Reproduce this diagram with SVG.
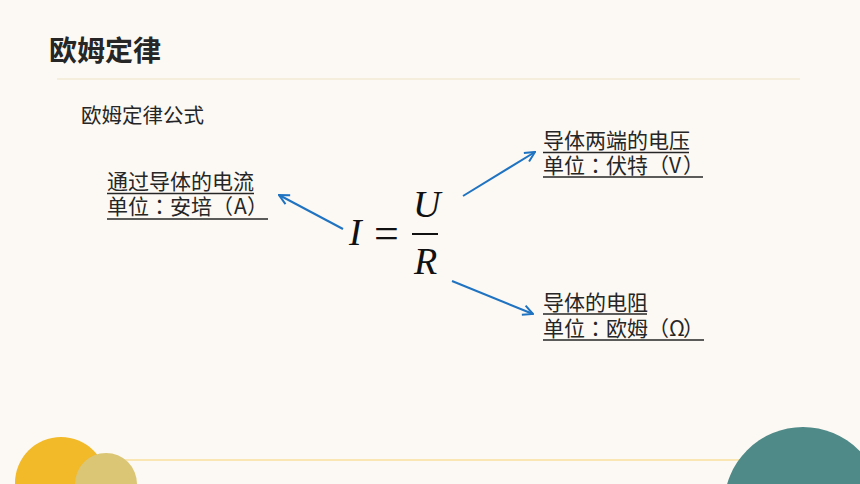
<svg xmlns="http://www.w3.org/2000/svg" width="860" height="484" viewBox="0 0 860 484">
<defs>
<style>
.cn{font-family:"Noto Sans CJK SC","Noto Sans",sans-serif;fill:#262626;}
.lbl{font-size:21px;}
.u2{font-family:"Noto Sans CJK TC","Noto Sans CJK SC",sans-serif;font-feature-settings:"halt" 0,"chws" 0,"palt" 0;text-spacing-trim:space-all;}
.ul{stroke:#262626;stroke-width:1.3;}
.math{font-family:"Liberation Serif","DejaVu Serif",serif;font-style:italic;fill:#111;font-size:38px;}
.conn{stroke:#1f73c1;stroke-width:2;fill:none;}
</style>
<marker id="ah" viewBox="0 0 12 12" refX="11" refY="6" markerWidth="12" markerHeight="12" markerUnits="userSpaceOnUse" orient="auto">
<path d="M1,1 L11,6 L1,11" fill="none" stroke="#1f73c1" stroke-width="2"/>
</marker>
</defs>
<rect width="860" height="484" fill="#fcf9f4"/>
<line x1="57" y1="79" x2="800" y2="79" stroke="#efe4c4" stroke-width="1.2"/>
<line x1="100" y1="460" x2="770" y2="460" stroke="#f8df9c" stroke-width="1.5"/>
<circle cx="61" cy="483" r="46" fill="#f2b928"/>
<circle cx="106" cy="484" r="31" fill="#dbc676"/>
<circle cx="803" cy="506" r="79" fill="#4f8a88"/>

<g id="title"><text class="cn" x="49" y="61" font-size="28" font-weight="bold">欧姆定律</text></g>
<g id="subtitle"><text class="cn" x="81" y="123" font-size="20.5">欧姆定律公式</text></g>

<g id="formula">
<text class="math" x="349" y="245">I</text>
<text x="374" y="248" font-family="Liberation Serif,serif" font-size="44" fill="#111">=</text>
<line x1="412" y1="234" x2="438" y2="234" stroke="#111" stroke-width="2"/>
<text class="math" x="413" y="217">U</text>
<text class="math" x="414" y="274">R</text>
</g>

<g id="current">
<text class="cn lbl" x="107" y="189">通过导体的电流<tspan class="u2" x="107 128 149 170 191 212 234 247" y="214">单位：安培（A）</tspan></text>
<line class="ul" x1="107" y1="193.5" x2="254" y2="193.5"/>
<line class="ul" x1="107" y1="219" x2="268" y2="219"/>
</g>

<g id="voltage">
<text class="cn lbl" x="543" y="148">导体两端的电压<tspan class="u2" x="543 564 585 606 627 648 669 683" y="173">单位：伏特（V）</tspan></text>
<line class="ul" x1="543" y1="152.5" x2="689" y2="152.5"/>
<line class="ul" x1="543" y1="177" x2="703" y2="177"/>
</g>

<g id="resistance">
<text class="cn lbl" x="543" y="310">导体的电阻<tspan class="u2" x="543 564 585 606 627 648 669 683" y="336">单位：欧姆（Ω）</tspan></text>
<line class="ul" x1="543" y1="314" x2="647" y2="314"/>
<line class="ul" x1="543" y1="340" x2="704" y2="340"/>
</g>

<g id="connectors">
<line class="conn" x1="343" y1="229" x2="279" y2="195" marker-end="url(#ah)"/>
<line class="conn" x1="463" y1="196" x2="535" y2="152" marker-end="url(#ah)"/>
<line class="conn" x1="452" y1="281" x2="533" y2="314" marker-end="url(#ah)"/>
</g>
</svg>
